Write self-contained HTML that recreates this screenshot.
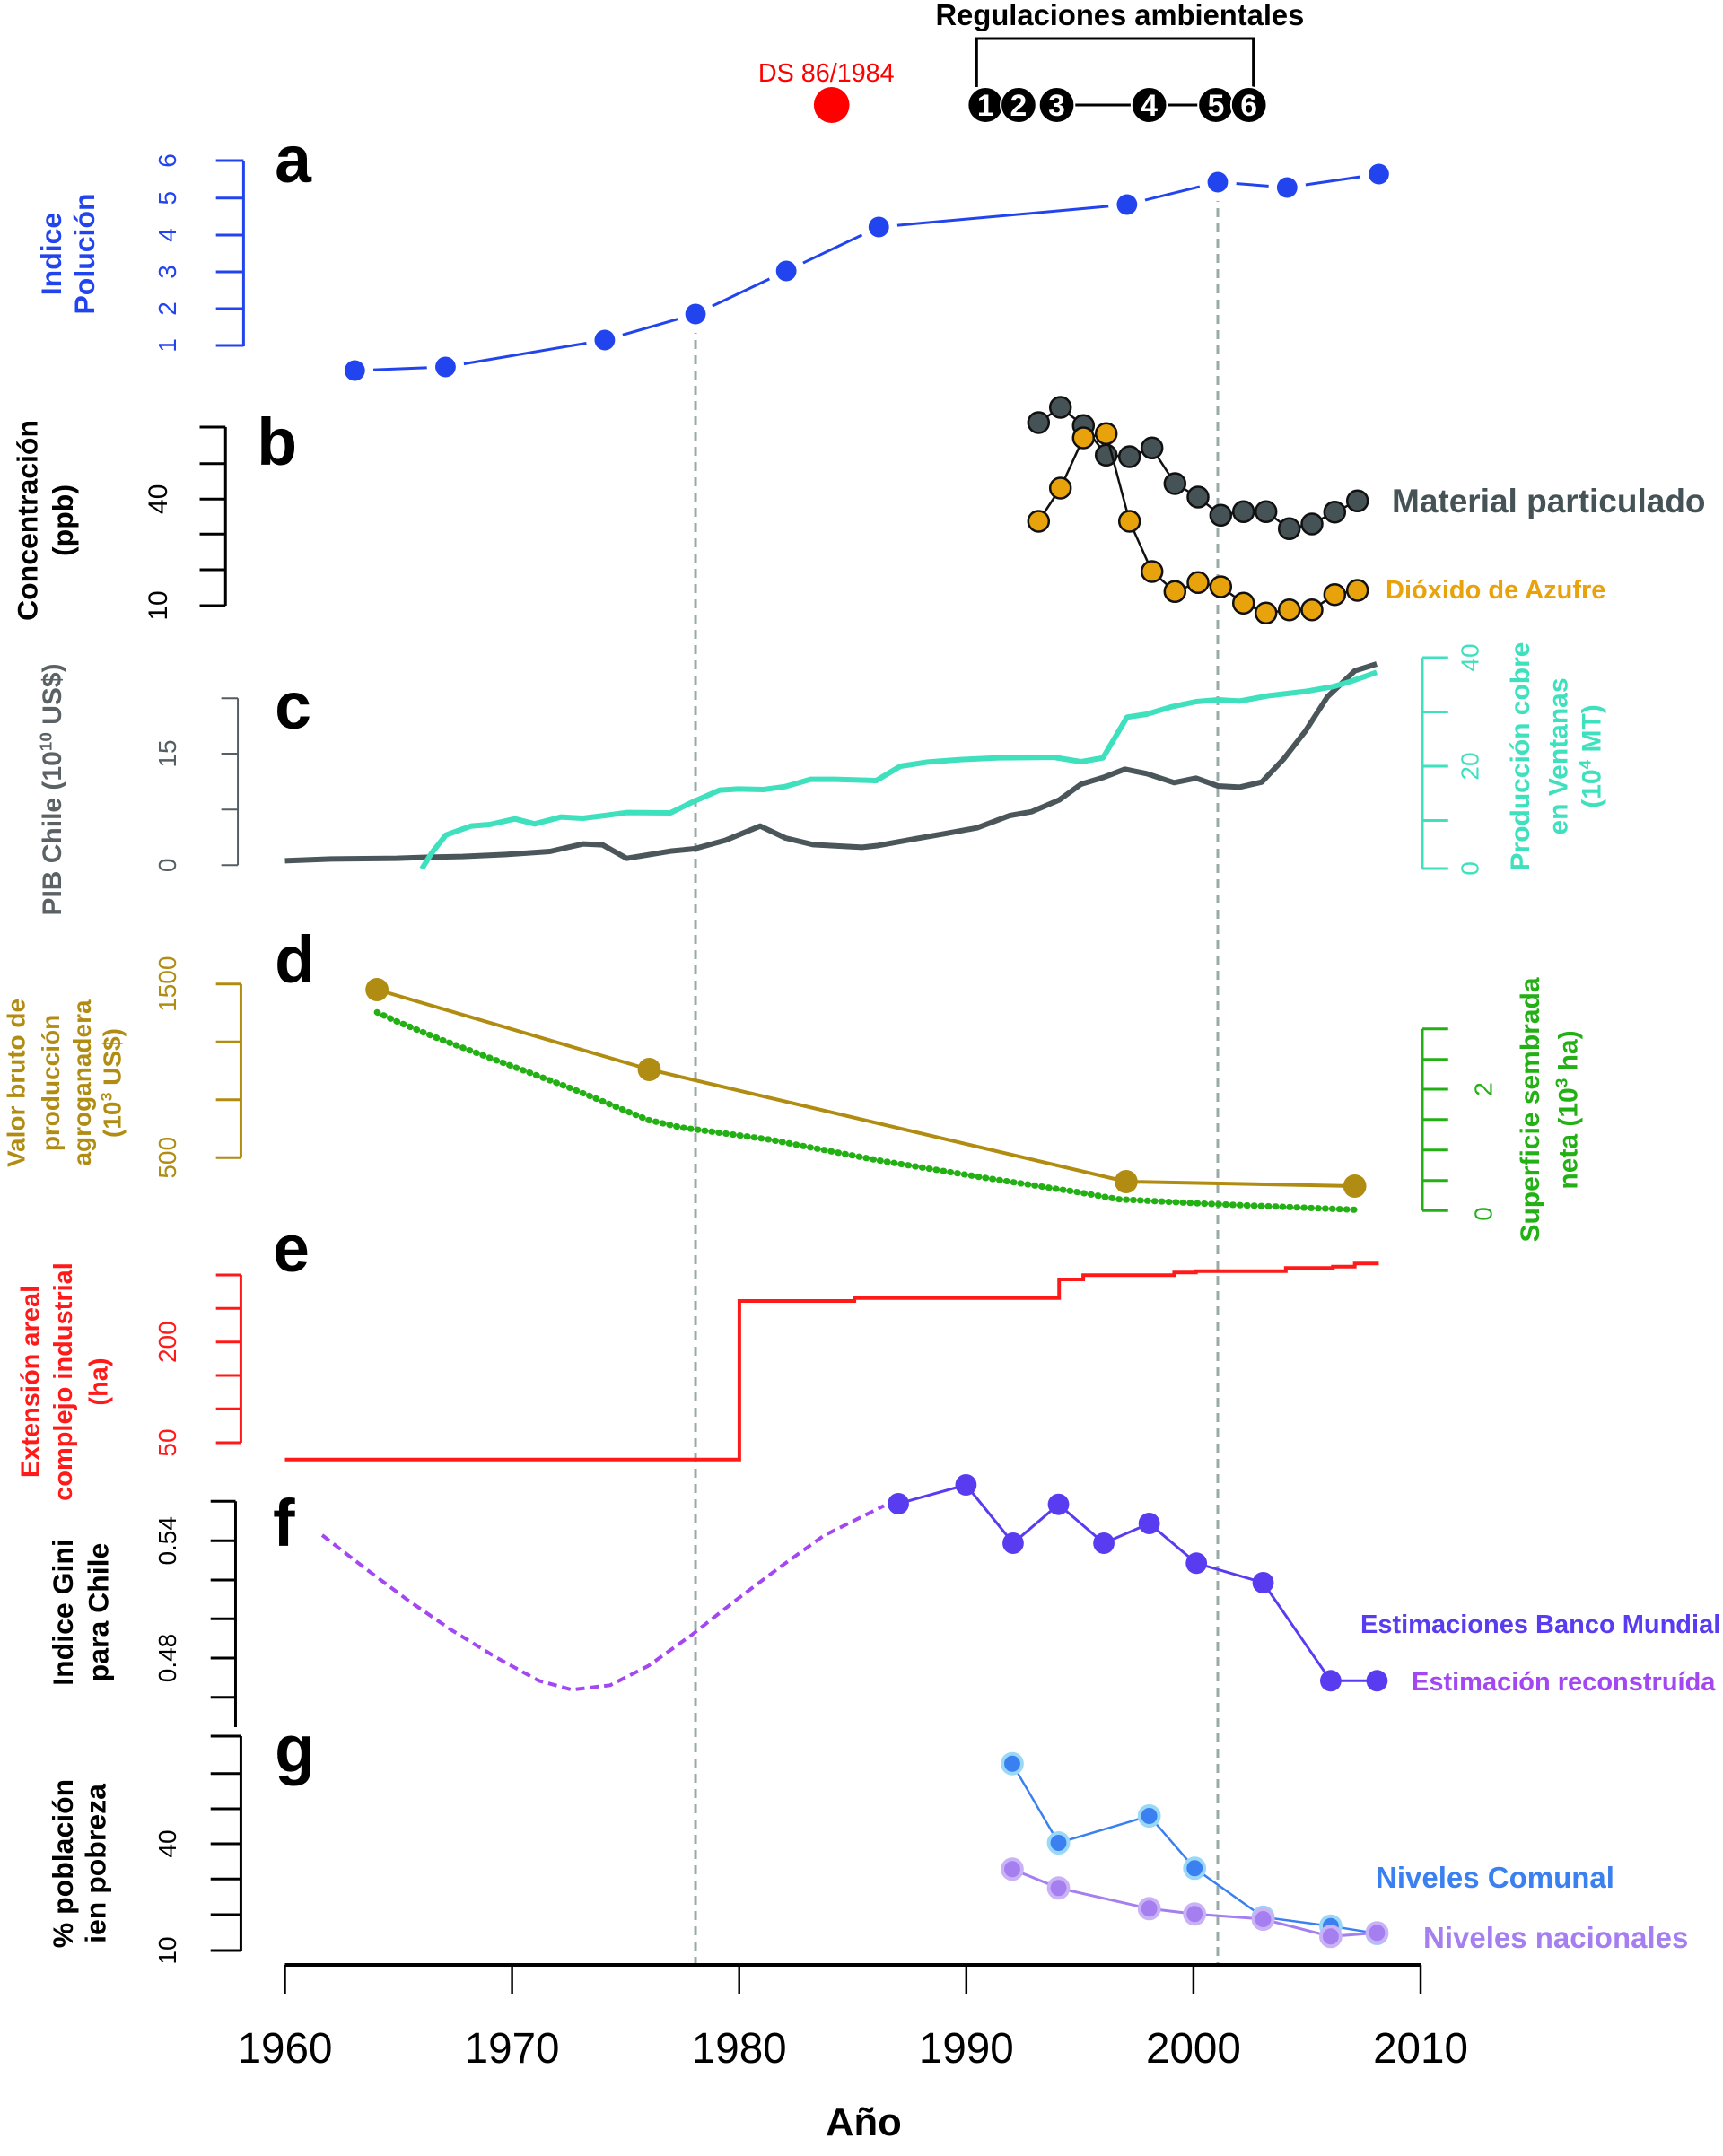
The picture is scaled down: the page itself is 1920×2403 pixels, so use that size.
<!DOCTYPE html>
<html><head><meta charset="utf-8"><style>
html,body{margin:0;padding:0;background:#fff;}
svg{display:block;font-family:"Liberation Sans",Arial,sans-serif;}
</style></head><body>
<svg width="1920" height="2403" viewBox="0 0 1920 2403" xmlns="http://www.w3.org/2000/svg">
<rect width="1920" height="2403" fill="#fff"/>
<g transform="translate(2.73,0) scale(0.9914,1)">
<!-- Top annotations -->
<text x="1256" y="28" font-size="33" font-weight="bold" text-anchor="middle">Regulaciones ambientales</text>
<polyline points="1095,97 1095,43 1406,43 1406,97" fill="none" stroke="#000" stroke-width="3"/>
<line x1="1185" y1="117" x2="1401" y2="117" stroke="#000" stroke-width="3"/>
<g font-size="34" font-weight="bold" fill="#fff" text-anchor="middle">
<circle cx="1105" cy="117" r="20" fill="#000" stroke="#fff" stroke-width="2"/><text x="1105" y="129">1</text>
<circle cx="1142" cy="117" r="20" fill="#000" stroke="#fff" stroke-width="2"/><text x="1142" y="129">2</text>
<circle cx="1185" cy="117" r="20" fill="#000" stroke="#fff" stroke-width="2"/><text x="1185" y="129">3</text>
<circle cx="1289" cy="117" r="20" fill="#000" stroke="#fff" stroke-width="2"/><text x="1289" y="129">4</text>
<circle cx="1364" cy="117" r="20" fill="#000" stroke="#fff" stroke-width="2"/><text x="1364" y="129">5</text>
<circle cx="1401" cy="117" r="20" fill="#000" stroke="#fff" stroke-width="2"/><text x="1401" y="129">6</text>
</g>
<circle cx="932" cy="117" r="20" fill="#ff0000"/>
<text x="926" y="91" font-size="29" fill="#ff0000" text-anchor="middle">DS 86/1984</text>

<!-- dashed verticals -->
<line x1="779" y1="362" x2="779" y2="2190" stroke="#9aaaa8" stroke-width="3" stroke-dasharray="10 7"/>
<line x1="1366" y1="215" x2="1366" y2="2190" stroke="#9aaaa8" stroke-width="3" stroke-dasharray="10 7"/>

<!-- panel letters -->
<g font-size="74" font-weight="bold" fill="#000">
<text x="306" y="203">a</text>
<text x="286" y="518">b</text>
<text x="306" y="812">c</text>
<text x="306" y="1095">d</text>
<text x="304" y="1417">e</text>
<text x="304" y="1723">f</text>
<text x="306" y="1975">g</text>
</g>

<!-- Panel a -->
<g stroke="#2244ee" stroke-width="3" fill="none">
<line x1="271" y1="179" x2="271" y2="386"/>
<line x1="240" y1="179" x2="271" y2="179"/><line x1="240" y1="220.7" x2="271" y2="220.7"/>
<line x1="240" y1="262" x2="271" y2="262"/><line x1="240" y1="303" x2="271" y2="303"/>
<line x1="240" y1="344" x2="271" y2="344"/><line x1="240" y1="385" x2="271" y2="385"/>
<polyline points="396,413 498,409 677,379 779,350 881,302 985,253 1264,228 1366,203 1444,209 1547,194"/>
</g>
<g fill="#fff">
<circle cx="396" cy="413" r="21"/><circle cx="498" cy="409" r="21"/><circle cx="677" cy="379" r="21"/><circle cx="779" cy="350" r="21"/><circle cx="881" cy="302" r="21"/><circle cx="985" cy="253" r="21"/><circle cx="1264" cy="228" r="21"/><circle cx="1366" cy="203" r="21"/><circle cx="1444" cy="209" r="21"/><circle cx="1547" cy="194" r="21"/>
</g>
<g fill="#2244ee">
<circle cx="396" cy="413" r="11.5"/><circle cx="498" cy="409" r="11.5"/><circle cx="677" cy="379" r="11.5"/><circle cx="779" cy="350" r="11.5"/><circle cx="881" cy="302" r="11.5"/><circle cx="985" cy="253" r="11.5"/><circle cx="1264" cy="228" r="11.5"/><circle cx="1366" cy="203" r="11.5"/><circle cx="1444" cy="209" r="11.5"/><circle cx="1547" cy="194" r="11.5"/>
</g>
<g font-size="28" fill="#2244ee" text-anchor="middle">
<text transform="translate(195,179) rotate(-90)">6</text><text transform="translate(195,220.7) rotate(-90)">5</text>
<text transform="translate(195,262) rotate(-90)">4</text><text transform="translate(195,303) rotate(-90)">3</text>
<text transform="translate(195,344) rotate(-90)">2</text><text transform="translate(195,385) rotate(-90)">1</text>
</g>
<g font-size="32" font-weight="bold" fill="#2244ee" text-anchor="middle">
<text transform="translate(66,283) rotate(-90)">Indice</text>
<text transform="translate(103,283) rotate(-90)">Polución</text>
</g>

<!-- Panel b axis -->
<g stroke="#000" stroke-width="3">
<line x1="250.7" y1="476" x2="250.7" y2="675"/>
<line x1="221.7" y1="476" x2="250.7" y2="476"/><line x1="221.7" y1="516.7" x2="250.7" y2="516.7"/>
<line x1="221.7" y1="556.3" x2="250.7" y2="556.3"/><line x1="221.7" y1="595.3" x2="250.7" y2="595.3"/>
<line x1="221.7" y1="635" x2="250.7" y2="635"/><line x1="221.7" y1="675" x2="250.7" y2="675"/>
</g>
<g font-size="30" text-anchor="middle">
<text transform="translate(185,556.3) rotate(-90)">40</text>
<text transform="translate(185,675) rotate(-90)">10</text>
</g>
<g font-size="32" font-weight="bold" text-anchor="middle">
<text transform="translate(39,580) rotate(-90)">Concentración</text>
<text transform="translate(79,580) rotate(-90)">(ppb)</text>
</g>

<!-- Panel c -->
<g stroke="#555f63" stroke-width="2">
<line x1="264.6" y1="778.3" x2="264.6" y2="964.3"/>
<line x1="246" y1="778.3" x2="264.6" y2="778.3"/><line x1="246" y1="840" x2="264.6" y2="840"/>
<line x1="246" y1="902.3" x2="264.6" y2="902.3"/><line x1="246" y1="964.3" x2="264.6" y2="964.3"/>
</g>
<g font-size="28" fill="#555f63" text-anchor="middle">
<text transform="translate(195,840) rotate(-90)">15</text>
<text transform="translate(195,964.3) rotate(-90)">0</text>
</g>
<text transform="translate(66,880) rotate(-90)" font-size="30" font-weight="bold" fill="#5a6266" text-anchor="middle">PIB Chile (10<tspan font-size="19" dy="-11">10</tspan><tspan dy="11"> US$)</tspan></text>
<g stroke="#3ee0bd" stroke-width="3">
<line x1="1596" y1="733" x2="1596" y2="968"/>
<line x1="1596" y1="733" x2="1625" y2="733"/><line x1="1596" y1="793.5" x2="1625" y2="793.5"/>
<line x1="1596" y1="854" x2="1625" y2="854"/><line x1="1596" y1="914.5" x2="1625" y2="914.5"/>
<line x1="1596" y1="968" x2="1625" y2="968"/>
</g>
<g font-size="28" fill="#3ee0bd" text-anchor="middle">
<text transform="translate(1659,733) rotate(-90)">40</text>
<text transform="translate(1659,854) rotate(-90)">20</text>
<text transform="translate(1659,968) rotate(-90)">0</text>
</g>
<g font-size="30" font-weight="bold" fill="#3ee0bd" text-anchor="middle">
<text transform="translate(1716,843) rotate(-90)">Producción cobre</text>
<text transform="translate(1759,843) rotate(-90)">en  Ventanas</text>
<text transform="translate(1796,843) rotate(-90)">(10<tspan font-size="19" dy="-11">4</tspan><tspan dy="11"> MT)</tspan></text>
</g>
<g transform="translate(0,700) scale(1.2308,0.33333)" fill="none" stroke-linejoin="round">
<polyline vector-effect="non-scaling-stroke" stroke="#4a565a" stroke-width="6" points="258,778 300,772 360,770 390,766 420,764 460,757 500,747 530,722 548,725 570,770 610,746 632,738 660,710 692,662 715,702 740,724 770,730 785,733 800,727 830,707 860,688 890,668 920,627 940,614 965,575 985,522 1005,500 1025,472 1045,487 1070,517 1090,502 1110,528 1130,532 1150,515 1170,438 1190,344 1210,230 1235,143 1255,120"/>
<polyline vector-effect="non-scaling-stroke" stroke="#3ee0bd" stroke-width="6" points="383,805 392,752 405,692 428,662 445,657 468,638 486,655 510,632 530,636 550,627 570,617 610,618 630,582 655,542 672,538 695,540 715,530 738,506 760,506 798,510 820,462 845,448 875,440 910,434 960,432 985,447 1005,434 1027,298 1045,288 1068,263 1090,246 1110,240 1130,244 1155,227 1190,212 1215,196 1230,180 1255,148"/>
</g>

<!-- Panel d -->
<g stroke="#b08c12" stroke-width="3">
<line x1="268" y1="1096.7" x2="268" y2="1290.3"/>
<line x1="240" y1="1096.7" x2="268" y2="1096.7"/><line x1="240" y1="1161.3" x2="268" y2="1161.3"/>
<line x1="240" y1="1225.7" x2="268" y2="1225.7"/><line x1="240" y1="1290.3" x2="268" y2="1290.3"/>
</g>
<g font-size="28" fill="#b08c12" text-anchor="middle">
<text transform="translate(195,1096.7) rotate(-90)">1500</text>
<text transform="translate(195,1290.3) rotate(-90)">500</text>
</g>
<g font-size="28" font-weight="bold" fill="#b08c12" text-anchor="middle">
<text transform="translate(25,1207) rotate(-90)">Valor bruto de</text>
<text transform="translate(64,1207) rotate(-90)">producción</text>
<text transform="translate(99,1207) rotate(-90)">agroganadera</text>
<text transform="translate(133,1207) rotate(-90)">(10<tspan font-size="18" dy="-10">3</tspan><tspan dy="10"> US$)</tspan></text>
</g>
<g stroke="#22b014" stroke-width="3">
<line x1="1596" y1="1146.7" x2="1596" y2="1349.3"/>
<line x1="1596" y1="1146.7" x2="1625" y2="1146.7"/><line x1="1596" y1="1180.7" x2="1625" y2="1180.7"/>
<line x1="1596" y1="1214" x2="1625" y2="1214"/><line x1="1596" y1="1247.7" x2="1625" y2="1247.7"/>
<line x1="1596" y1="1281.7" x2="1625" y2="1281.7"/><line x1="1596" y1="1315.7" x2="1625" y2="1315.7"/>
<line x1="1596" y1="1349.3" x2="1625" y2="1349.3"/>
</g>
<g font-size="28" fill="#22b014" text-anchor="middle">
<text transform="translate(1674,1214) rotate(-90)">2</text>
<text transform="translate(1674,1353) rotate(-90)">0</text>
</g>
<g font-size="30" font-weight="bold" fill="#22b014" text-anchor="middle">
<text transform="translate(1727,1237) rotate(-90)">Superficie sembrada</text>
<text transform="translate(1770,1237) rotate(-90)">neta (10<tspan font-size="19" dy="-11">3</tspan><tspan dy="11"> ha)</tspan></text>
</g>
<polyline fill="none" stroke="#22b014" stroke-width="7" stroke-linecap="round" stroke-dasharray="1 7" points="421,1128.3 443,1138.3 492,1158.3 541.5,1176.7 591,1195 640,1213.3 689,1233.3 726,1248.3 763,1256.7 861.5,1270 984.6,1293.3 1107.7,1313.3 1206,1328.3 1255,1336.7 1354,1341.7 1520,1348.3"/>
<polyline fill="none" stroke="#b08c12" stroke-width="4" points="421,1103 727,1192 1263,1317 1520,1322"/>
<g fill="#b08c12"><circle cx="421" cy="1103" r="13"/><circle cx="727" cy="1192" r="13"/><circle cx="1263" cy="1317" r="13"/><circle cx="1520" cy="1322" r="13"/></g>

<!-- Panel e -->
<g stroke="#ff1a1a" stroke-width="3">
<line x1="268" y1="1421" x2="268" y2="1608"/>
<line x1="240" y1="1421" x2="268" y2="1421"/><line x1="240" y1="1458.3" x2="268" y2="1458.3"/>
<line x1="240" y1="1495.7" x2="268" y2="1495.7"/><line x1="240" y1="1533" x2="268" y2="1533"/>
<line x1="240" y1="1570.3" x2="268" y2="1570.3"/><line x1="240" y1="1608" x2="268" y2="1608"/>
</g>
<g font-size="28" fill="#ff1a1a" text-anchor="middle">
<text transform="translate(195,1495.7) rotate(-90)">200</text>
<text transform="translate(195,1608) rotate(-90)">50</text>
</g>
<g font-size="29" font-weight="bold" fill="#ff1a1a" text-anchor="middle">
<text transform="translate(41,1540) rotate(-90)">Extensión areal</text>
<text transform="translate(78,1540) rotate(-90)">complejo industrial</text>
<text transform="translate(118,1540) rotate(-90)">(ha)</text>
</g>
<path fill="none" stroke="#ff1a1a" stroke-width="4" d="M317.5,1626.7 H828.3 V1450 H957.6 V1446.7 H1187.7 V1426 H1214.8 V1421.3 H1317 V1418.3 H1341.5 V1416.7 H1442.5 V1413.3 H1495.4 V1411.7 H1520 V1408.3 H1547"/>

<!-- Panel f -->
<g stroke="#000" stroke-width="3">
<line x1="262" y1="1673.3" x2="262" y2="1925"/>
<line x1="234" y1="1673.3" x2="262" y2="1673.3"/><line x1="234" y1="1717.3" x2="262" y2="1717.3"/>
<line x1="234" y1="1761" x2="262" y2="1761"/><line x1="234" y1="1804.3" x2="262" y2="1804.3"/>
<line x1="234" y1="1848" x2="262" y2="1848"/><line x1="234" y1="1891.7" x2="262" y2="1891.7"/>
</g>
<g font-size="28" text-anchor="middle">
<text transform="translate(195,1717.3) rotate(-90)">0.54</text>
<text transform="translate(195,1848) rotate(-90)">0.48</text>
</g>
<g font-size="32" font-weight="bold" text-anchor="middle">
<text transform="translate(79,1797) rotate(-90)">Indice Gini</text>
<text transform="translate(119,1797) rotate(-90)">para Chile</text>
</g>
<polyline fill="none" stroke="#a347f0" stroke-width="4" stroke-dasharray="10 6" stroke-linejoin="round" points="359.4,1711 406,1746.7 455.4,1783.3 504.6,1816.7 553.9,1846.7 603,1873.3 640,1883.3 683,1878.3 726,1856.7 775.4,1821.7 824.6,1783.3 873.8,1746.7 923,1711.7 990.8,1678.3"/>
<polyline fill="none" stroke="#5a3cf0" stroke-width="3" points="1007,1676 1083,1655 1136,1720 1187,1676.7 1238,1720 1289,1698 1342,1742.3 1417,1764 1493,1873.3 1545,1873.3"/>
<g fill="#5a3cf0">
<circle cx="1007" cy="1676" r="12"/><circle cx="1083" cy="1655" r="12"/><circle cx="1136" cy="1720" r="12"/><circle cx="1187" cy="1676.7" r="12"/><circle cx="1238" cy="1720" r="12"/><circle cx="1289" cy="1698" r="12"/><circle cx="1342" cy="1742.3" r="12"/><circle cx="1417" cy="1764" r="12"/><circle cx="1493" cy="1873.3" r="12"/><circle cx="1545" cy="1873.3" r="12"/>
</g>

<!-- Panel g -->
<g stroke="#000" stroke-width="3">
<line x1="268" y1="1935" x2="268" y2="2174"/>
<line x1="234" y1="1935" x2="268" y2="1935"/><line x1="234" y1="1976.7" x2="268" y2="1976.7"/>
<line x1="234" y1="2016" x2="268" y2="2016"/><line x1="234" y1="2055" x2="268" y2="2055"/>
<line x1="234" y1="2094.3" x2="268" y2="2094.3"/><line x1="234" y1="2134" x2="268" y2="2134"/>
<line x1="234" y1="2174" x2="268" y2="2174"/>
</g>
<g font-size="28" text-anchor="middle">
<text transform="translate(195,2055) rotate(-90)">40</text>
<text transform="translate(195,2174) rotate(-90)">10</text>
</g>
<g font-size="32" font-weight="bold" text-anchor="middle">
<text transform="translate(79,2077) rotate(-90)">% población</text>
<text transform="translate(116,2077) rotate(-90)">ien pobreza</text>
</g>
<polyline fill="none" stroke="#3a80f0" stroke-width="2.5" points="1135,1965.7 1187,2054 1289,2024 1340,2082.3 1417,2136.7 1493,2146.7 1545,2155"/>
<g fill="#3a80f0" stroke="#9ad8f8" stroke-width="4">
<circle cx="1135" cy="1965.7" r="11"/><circle cx="1187" cy="2054" r="11"/><circle cx="1289" cy="2024" r="11"/><circle cx="1340" cy="2082.3" r="11"/><circle cx="1417" cy="2136.7" r="11"/><circle cx="1493" cy="2146.7" r="11"/><circle cx="1545" cy="2155" r="11"/>
</g>
<polyline fill="none" stroke="#a57ff0" stroke-width="3" points="1135,2083.3 1187,2104.3 1289,2127.3 1340,2133.3 1417,2139 1493,2158.3 1545,2154.3"/>
<g fill="#a57ff0" stroke="#c9b2f5" stroke-width="4">
<circle cx="1135" cy="2083.3" r="11"/><circle cx="1187" cy="2104.3" r="11"/><circle cx="1289" cy="2127.3" r="11"/><circle cx="1340" cy="2133.3" r="11"/><circle cx="1417" cy="2139" r="11"/><circle cx="1493" cy="2158.3" r="11"/><circle cx="1545" cy="2154.3" r="11"/>
</g>

<!-- X axis -->
<line x1="317.5" y1="2190" x2="1594" y2="2190" stroke="#000" stroke-width="4"/>
<g stroke="#000" stroke-width="2.5">
<line x1="317.5" y1="2190" x2="317.5" y2="2222"/><line x1="572.8" y1="2190" x2="572.8" y2="2222"/>
<line x1="828.1" y1="2190" x2="828.1" y2="2222"/><line x1="1083.4" y1="2190" x2="1083.4" y2="2222"/>
<line x1="1338.7" y1="2190" x2="1338.7" y2="2222"/><line x1="1594" y1="2190" x2="1594" y2="2222"/>
</g>
<g font-size="48" text-anchor="middle">
<text x="317.5" y="2299">1960</text><text x="572.8" y="2299">1970</text><text x="828.1" y="2299">1980</text>
<text x="1083.4" y="2299">1990</text><text x="1338.7" y="2299">2000</text><text x="1594" y="2299">2010</text>
</g>
<text x="968" y="2380" font-size="44" font-weight="bold" text-anchor="middle">Año</text>
</g>

<!-- Panel b data (not scaled) -->
<polyline fill="none" stroke="#111" stroke-width="2.5" points="1157.3,471 1181.7,454 1207.3,474.3 1232.7,507.3 1258.7,509 1283.7,499.3 1309.3,539 1335,554 1360.3,574.3 1385.7,570.3 1410.7,570.3 1436.7,589.3 1462,584 1487.3,570.7 1512.7,558.3"/>
<g fill="#455357" stroke="#111" stroke-width="2.5">
<circle cx="1157.3" cy="471" r="11.5"/><circle cx="1181.7" cy="454" r="11.5"/><circle cx="1207.3" cy="474.3" r="11.5"/><circle cx="1232.7" cy="507.3" r="11.5"/><circle cx="1258.7" cy="509" r="11.5"/><circle cx="1283.7" cy="499.3" r="11.5"/><circle cx="1309.3" cy="539" r="11.5"/><circle cx="1335" cy="554" r="11.5"/><circle cx="1360.3" cy="574.3" r="11.5"/><circle cx="1385.7" cy="570.3" r="11.5"/><circle cx="1410.7" cy="570.3" r="11.5"/><circle cx="1436.7" cy="589.3" r="11.5"/><circle cx="1462" cy="584" r="11.5"/><circle cx="1487.3" cy="570.7" r="11.5"/><circle cx="1512.7" cy="558.3" r="11.5"/>
</g>
<polyline fill="none" stroke="#111" stroke-width="2.5" points="1157.3,581 1181.7,544 1207.3,488 1232.7,483.3 1258.7,581 1283.7,637 1309.3,659.3 1335,649.3 1360.3,654 1385.7,672.3 1410.7,683.3 1436.7,679.7 1462,679.7 1487.3,662.7 1512.7,658"/>
<g fill="#e8a20c" stroke="#111" stroke-width="2.5">
<circle cx="1157.3" cy="581" r="11.5"/><circle cx="1181.7" cy="544" r="11.5"/><circle cx="1207.3" cy="488" r="11.5"/><circle cx="1232.7" cy="483.3" r="11.5"/><circle cx="1258.7" cy="581" r="11.5"/><circle cx="1283.7" cy="637" r="11.5"/><circle cx="1309.3" cy="659.3" r="11.5"/><circle cx="1335" cy="649.3" r="11.5"/><circle cx="1360.3" cy="654" r="11.5"/><circle cx="1385.7" cy="672.3" r="11.5"/><circle cx="1410.7" cy="683.3" r="11.5"/><circle cx="1436.7" cy="679.7" r="11.5"/><circle cx="1462" cy="679.7" r="11.5"/><circle cx="1487.3" cy="662.7" r="11.5"/><circle cx="1512.7" cy="658" r="11.5"/>
</g>
<text x="1551" y="571" font-size="37" font-weight="bold" fill="#455357">Material particulado</text>
<text x="1544" y="667" font-size="29" font-weight="bold" fill="#e8a20c">Dióxido de Azufre</text>

<!-- legends -->
<text x="1516" y="1820" font-size="29" font-weight="bold" fill="#5a3cf0">Estimaciones Banco Mundial</text>
<text x="1573" y="1884" font-size="29" font-weight="bold" fill="#a347f0">Estimación reconstruída</text>
<text x="1533" y="2104" font-size="33" font-weight="bold" fill="#3a80f0">Niveles Comunal</text>
<text x="1586" y="2171" font-size="33" font-weight="bold" fill="#a57ff0">Niveles nacionales</text>
</svg>
</body></html>
